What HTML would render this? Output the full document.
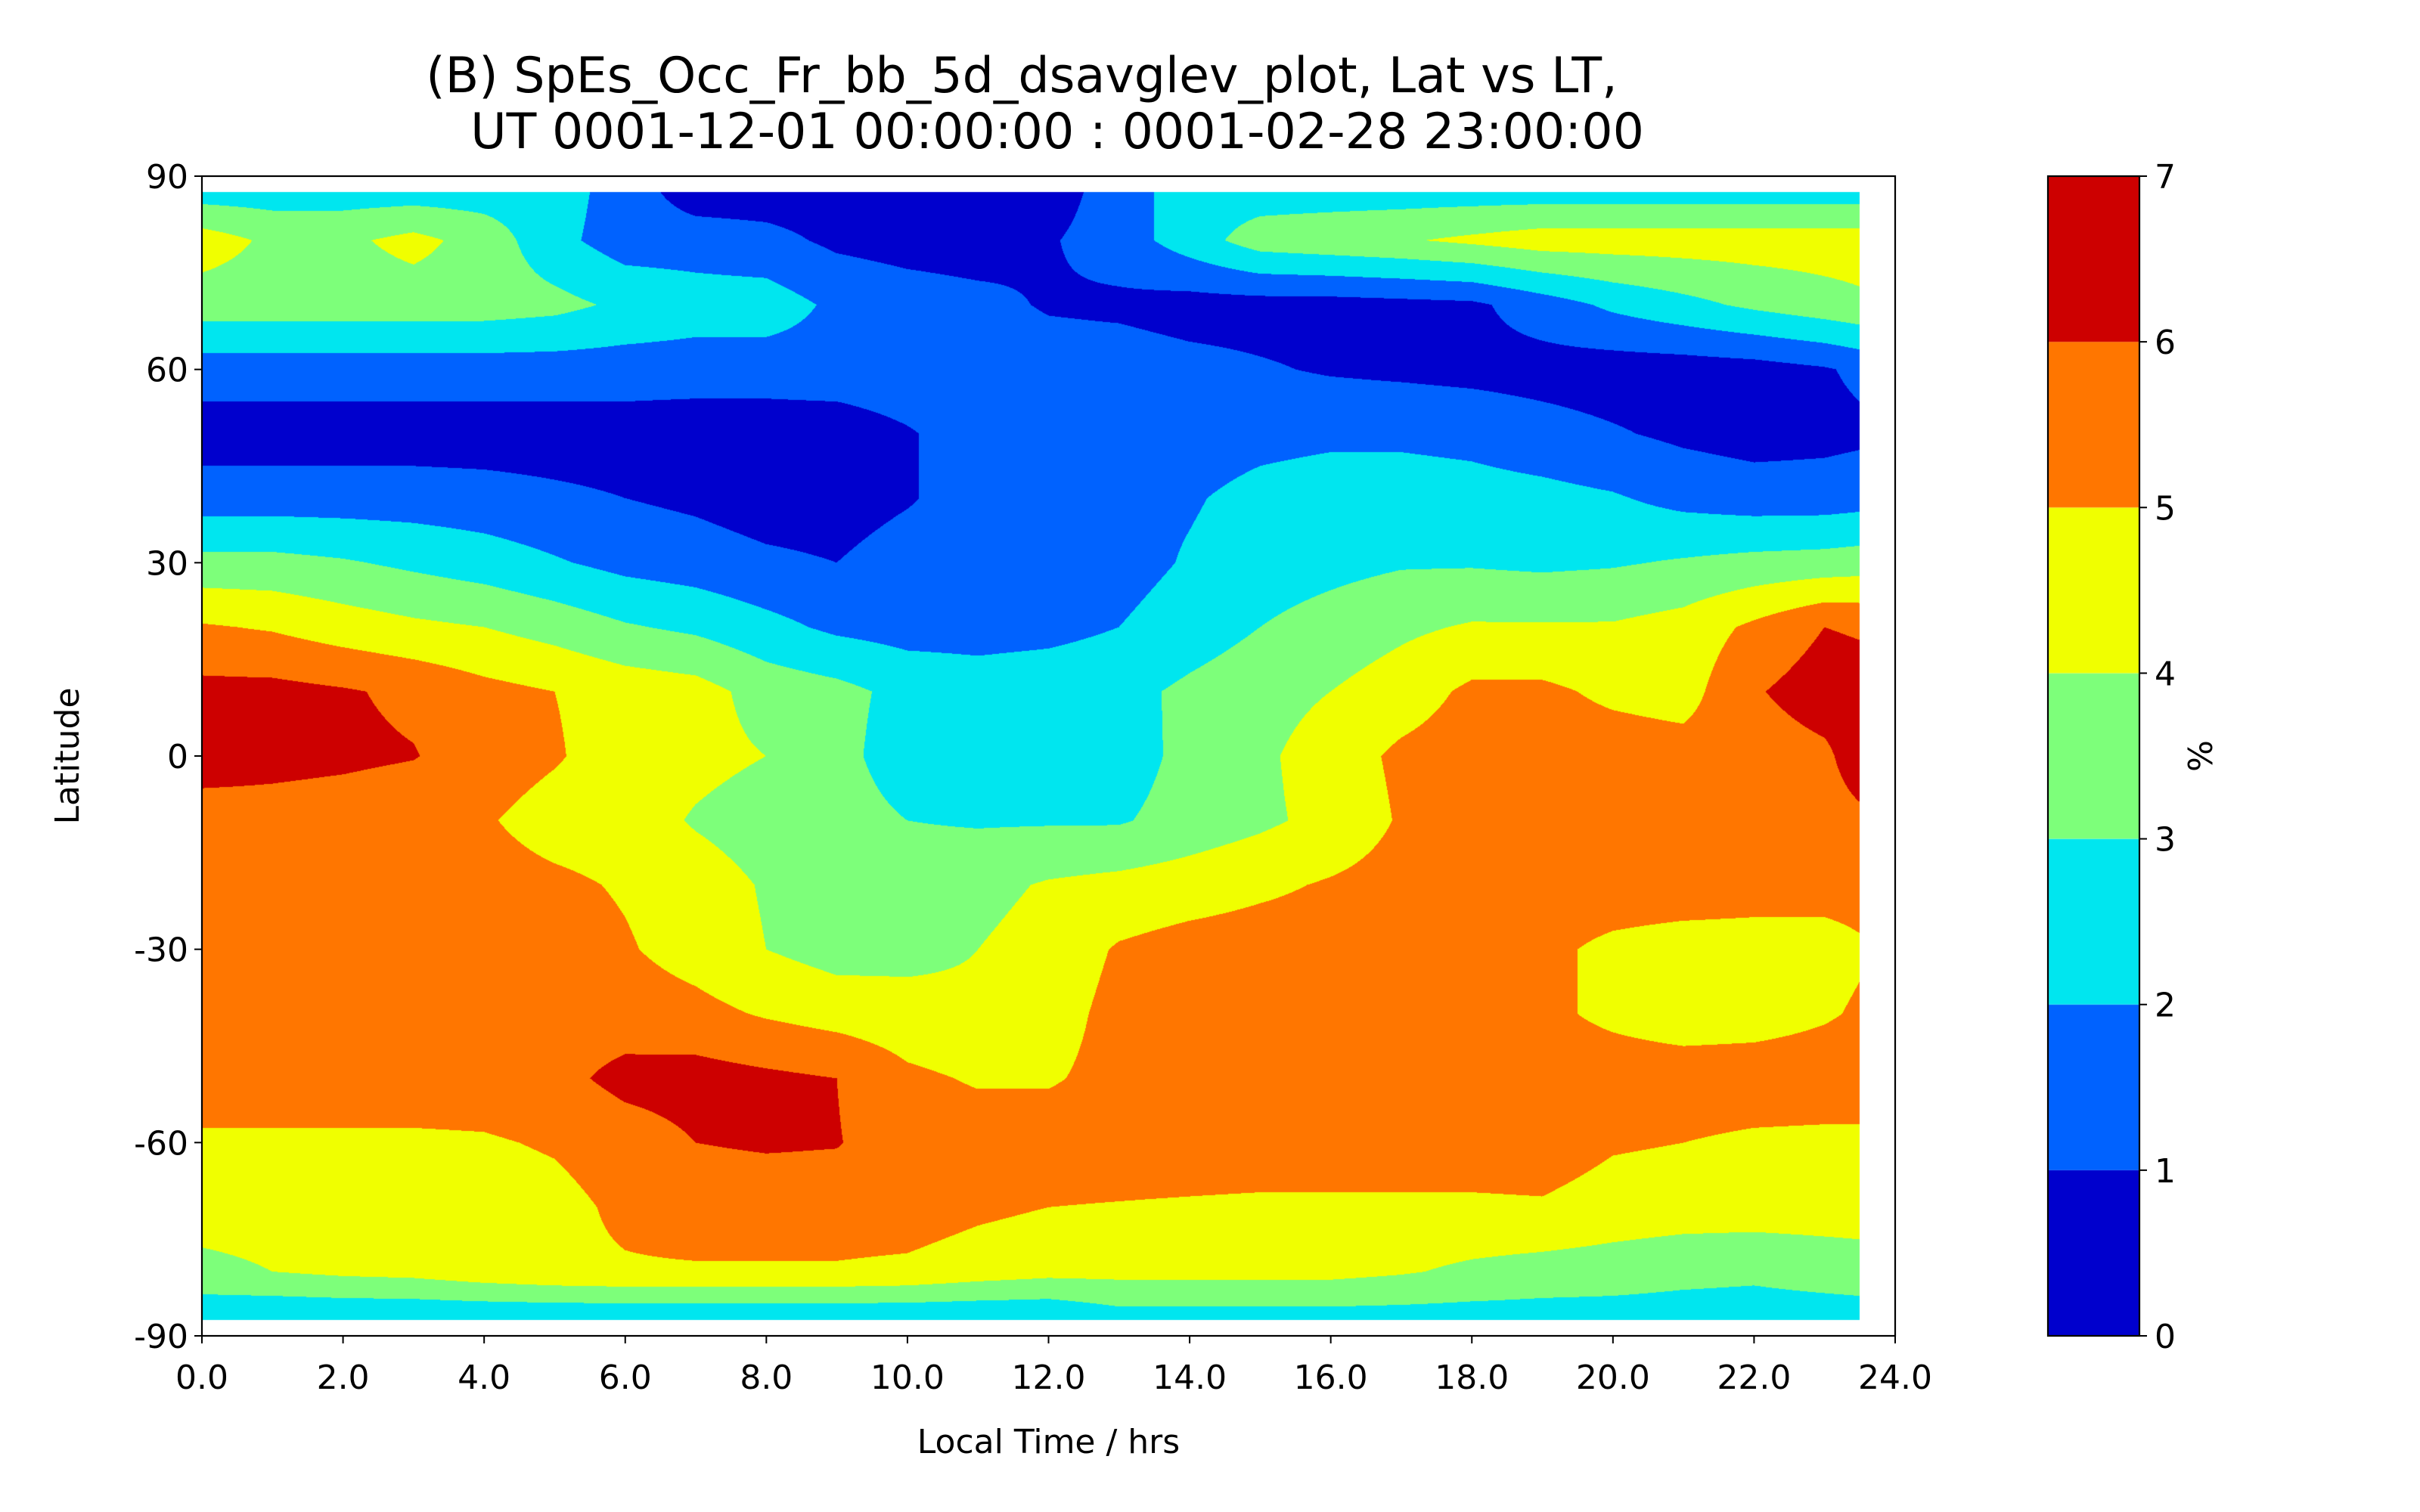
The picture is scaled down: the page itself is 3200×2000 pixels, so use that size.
<!DOCTYPE html>
<html>
<head>
<meta charset="utf-8">
<style>
  html,body{margin:0;padding:0;background:#fff;}
  #wrap{position:relative;width:3200px;height:2000px;overflow:hidden;background:#fff;font-family:"DejaVu Sans","Liberation Sans",sans-serif;}
  #plot-canvas{position:absolute;left:0;top:0;}
  #chart-svg{position:absolute;left:0;top:0;font-family:"DejaVu Sans","Liberation Sans",sans-serif;}
</style>
</head>
<body>
<div id="wrap">
  <canvas id="plot-canvas" width="3200" height="2000"></canvas>
  <svg id="chart-svg" width="3200" height="2000" xmlns="http://www.w3.org/2000/svg"></svg>
</div>
<script>
// ---- data ----
const ltValues = [0,1,2,3,4,5,6,7,8,9,10,11,12,13,14,15,16,17,18,19,20,21,22,23,23.5];
const latValues = [87.5,80,70,60,50,40,30,20,10,0,-10,-20,-30,-40,-50,-60,-70,-80,-87.5];
const row_p87 = [2.5,2.5,2.5,2.5,2.5,2.5,1.5,0.5,0.5,0.5,0.5,0.5,0.5,1.5,2.5,2.5,2.5,2.5,2.5,2.5,2.5,2.5,2.5,2.5,2.5];
const row_p80 = [4.5,3.8,3.8,4.3,3.6,2.3,1.5,1.5,1.3,0.8,0.6,0.5,0.9,1.5,2.5,3.5,3.7,3.9,4.2,4.5,4.5,4.5,4.5,4.5,4.5];
const row_p70 = [3.5,3.5,3.5,3.5,3.5,3.3,2.8,2.5,2.5,1.8,1.5,1.3,0.9,0.8,0.6,0.6,0.6,0.7,0.8,1.5,2.2,2.7,3.2,3.6,3.8];
const row_p60 = [1.5,1.5,1.5,1.5,1.5,1.5,1.5,1.5,1.5,1.6,1.7,1.7,1.5,1.5,1.3,1.1,0.9,0.8,0.7,0.6,0.5,0.5,0.6,0.9,1.2];
const row_p50 = [0.5,0.5,0.5,0.5,0.5,0.5,0.5,0.4,0.4,0.4,0.9,1.5,1.5,1.5,1.5,1.7,1.8,1.8,1.7,1.4,1.1,0.8,0.6,0.7,0.8];
const row_p40 = [1.5,1.5,1.5,1.5,1.4,1.2,1.0,0.8,0.5,0.5,0.9,1.5,1.6,1.7,1.9,2.3,2.5,2.5,2.4,2.3,2.1,1.7,1.5,1.5,1.6];
const row_p30 = [3.3,3.3,3.1,2.8,2.5,2.1,1.7,1.5,1.2,1.0,1.5,1.5,1.5,1.6,2.1,2.5,2.7,2.9,2.9,2.8,2.9,3.1,3.3,3.4,3.5];
const row_p20 = [5.1,4.9,4.5,4.2,4.0,3.6,3.1,2.8,2.3,1.8,1.6,1.6,1.7,2.0,2.5,3.0,3.4,3.8,4.1,4.1,4.1,4.4,5.2,6.0,5.9];
const row_p10 = [6.3,6.3,6.1,5.8,5.3,5.0,4.6,4.4,3.6,3.3,2.7,2.5,2.6,2.7,3.2,3.6,4.0,4.5,5.2,5.2,4.8,4.6,5.9,6.5,6.4];
const row_00  = [6.5,6.3,6.2,6.05,5.5,5.1,4.5,4.3,4.0,3.3,2.5,2.3,2.3,2.5,3.3,3.8,4.5,5.2,5.5,5.5,5.5,5.4,5.5,5.8,6.5];
const row_m10 = [5.5,5.6,5.5,5.3,5.1,4.6,4.5,3.9,3.5,3.4,3.0,2.9,2.9,2.9,3.4,3.8,4.3,5.1,5.5,5.6,5.7,5.7,5.7,5.6,5.8];
const row_m20 = [5.5,5.5,5.5,5.5,5.4,5.2,4.9,4.5,3.9,3.5,3.5,3.7,4.1,4.3,4.5,4.8,5.1,5.4,5.5,5.5,5.5,5.5,5.4,5.3,5.3];
const row_m30 = [5.5,5.5,5.5,5.5,5.5,5.5,5.1,4.6,4.0,3.6,3.7,4.0,4.4,5.1,5.4,5.5,5.5,5.5,5.4,5.2,4.8,4.6,4.6,4.7,4.9];
const row_m40 = [5.5,5.5,5.5,5.5,5.5,5.5,5.5,5.3,4.9,4.6,4.4,4.2,4.6,5.3,5.5,5.5,5.5,5.5,5.5,5.2,4.8,4.5,4.6,4.9,5.1];
const row_m50 = [5.5,5.5,5.5,5.5,5.5,5.7,6.3,6.4,6.2,6.0,5.2,4.9,4.9,5.3,5.5,5.5,5.5,5.5,5.5,5.5,5.5,5.5,5.5,5.5,5.5];
const row_m60 = [4.85,4.85,4.85,4.85,4.9,5.1,5.5,6.0,6.1,6.05,5.5,5.5,5.5,5.5,5.5,5.5,5.5,5.5,5.5,5.5,5.1,5.0,4.85,4.8,4.8];
const row_m70 = [4.5,4.5,4.5,4.5,4.5,4.7,5.2,5.5,5.5,5.5,5.5,5.2,5.0,4.95,4.9,4.85,4.85,4.85,4.85,4.9,4.6,4.5,4.5,4.5,4.5];
const row_m80 = [3.7,4.0,4.2,4.3,4.6,4.8,4.9,4.9,4.9,4.9,4.8,4.5,4.3,4.3,4.3,4.3,4.3,4.1,3.8,3.6,3.5,3.3,3.2,3.4,3.5];
const row_m87 = [2.2,2.0,2.0,2.0,2.0,2.0,2.0,2.0,2.0,2.0,2.0,2.0,2.0,2.5,2.5,2.5,2.5,2.5,2.5,2.5,2.5,2.5,2.5,2.5,2.5];
const gridRows = [row_p87,row_p80,row_p70,row_p60,row_p50,row_p40,row_p30,row_p20,row_p10,row_00,row_m10,row_m20,row_m30,row_m40,row_m50,row_m60,row_m70,row_m80,row_m87];
const levelBounds = [0,1,2,3,4,5,6,7];
const levelColors = ['#0000cd','#0062ff','#00e6ef','#7dff7a','#f0ff00','#ff7600','#cd0000'];
const xTickValues = [0,2,4,6,8,10,12,14,16,18,20,22,24];
const xTickLabels = ['0.0','2.0','4.0','6.0','8.0','10.0','12.0','14.0','16.0','18.0','20.0','22.0','24.0'];
const yTickValues = [90,60,30,0,-30,-60,-90];
const yTickLabels = ['90','60','30','0','-30','-60','-90'];
const cbTickValues = [0,1,2,3,4,5,6,7];

// ---- geometry ----
const AX = {l:267, r:2506, t:233, b:1767};
const CB = {l:2708, r:2829, t:233, b:1767};
const xScale = v => AX.l + (v/24)*(AX.r-AX.l);
const yScale = v => AX.t + ((90-v)/180)*(AX.b-AX.t);
const cbScale = v => CB.b - (v/7)*(CB.b-CB.t);

function hexToRgb(h){return [parseInt(h.slice(1,3),16),parseInt(h.slice(3,5),16),parseInt(h.slice(5,7),16)];}
const rgbLevels = levelColors.map(hexToRgb);

function findIdx(arr, v, desc){
  for(let i=0;i<arr.length-1;i++){
    const a=arr[i], b=arr[i+1];
    if(desc ? (v<=a && v>=b) : (v>=a && v<=b)) return [i,(v-a)/(b-a)];
  }
  return [arr.length-2,1];
}

// ---- draw filled field ----
const cv = document.getElementById('plot-canvas');
const ctx = cv.getContext('2d');
const x0 = Math.round(xScale(ltValues[0])), x1 = Math.round(xScale(ltValues[ltValues.length-1]));
const y0 = Math.round(yScale(latValues[0])), y1 = Math.round(yScale(latValues[latValues.length-1]));
const W = x1-x0, H = y1-y0;
const img = ctx.createImageData(W,H);
const colCache = [];
for(let px=0;px<W;px++){
  const lt = ltValues[0] + (px+0.5)/W*(ltValues[ltValues.length-1]-ltValues[0]);
  colCache.push(findIdx(ltValues, lt, false));
}
for(let py=0;py<H;py++){
  const lat = latValues[0] - (py+0.5)/H*(latValues[0]-latValues[latValues.length-1]);
  const [ri, rt] = findIdx(latValues, lat, true);
  const ra = gridRows[ri], rb = gridRows[ri+1];
  for(let px=0;px<W;px++){
    const [ci, ct] = colCache[px];
    const v = (1-rt)*((1-ct)*ra[ci]+ct*ra[ci+1]) + rt*((1-ct)*rb[ci]+ct*rb[ci+1]);
    let k = Math.floor(v); if(k<0)k=0; if(k>6)k=6;
    const c = rgbLevels[k];
    const o = (py*W+px)*4;
    img.data[o]=c[0]; img.data[o+1]=c[1]; img.data[o+2]=c[2]; img.data[o+3]=255;
  }
}
ctx.putImageData(img, x0, y0);

// colorbar
for(let i=0;i<levelColors.length;i++){
  ctx.fillStyle = levelColors[i];
  const ya = cbScale(levelBounds[i+1]), yb = cbScale(levelBounds[i]);
  ctx.fillRect(CB.l, ya, CB.r-CB.l, yb-ya);
}

// ---- SVG axes ----
const NS='http://www.w3.org/2000/svg';
const svg=document.getElementById('chart-svg');
function mk(tag, attrs, parent){
  const e=document.createElementNS(NS,tag);
  for(const k in attrs) e.setAttribute(k,attrs[k]);
  (parent||svg).appendChild(e); return e;
}
const frame = mk('rect',{x:AX.l,y:AX.t,width:AX.r-AX.l,height:AX.b-AX.t,fill:'none',stroke:'#000','stroke-width':2.2});


const cbFrame = mk('rect',{x:CB.l,y:CB.t,width:CB.r-CB.l,height:CB.b-CB.t,fill:'none',stroke:'#000','stroke-width':2.2});



const FS = 44;
xTickValues.forEach((v,i)=>{
  const x=xScale(v);
  const t=mk('line',{x1:x,x2:x,y1:AX.b,y2:AX.b+10,stroke:'#000','stroke-width':2});
  
  
  const l=mk('text',{x:x,y:AX.b+70,'text-anchor':'middle','font-size':FS,fill:'#000'});
  l.textContent=xTickLabels[i];
  
  
});
yTickValues.forEach((v,i)=>{
  const y=yScale(v);
  const t=mk('line',{x1:AX.l-10,x2:AX.l,y1:y,y2:y,stroke:'#000','stroke-width':2});
  
  
  const l=mk('text',{x:AX.l-18,y:y+16,'text-anchor':'end','font-size':FS,fill:'#000'});
  l.textContent=yTickLabels[i];
  
  
});
cbTickValues.forEach(v=>{
  const y=cbScale(v);
  const t=mk('line',{x1:CB.r,x2:CB.r+10,y1:y,y2:y,stroke:'#000','stroke-width':2});
  
  
  const l=mk('text',{x:CB.r+20,y:y+16,'text-anchor':'start','font-size':FS,fill:'#000'});
  l.textContent=String(v);
  
  
});
const cbl=mk('text',{x:0,y:0,'text-anchor':'middle','font-size':FS,fill:'#000',transform:'translate(2925,1000) rotate(-90)'});
cbl.textContent='%';


const xl=mk('text',{x:(AX.l+AX.r)/2,y:1922,'text-anchor':'middle','font-size':FS,fill:'#000'});
xl.textContent='Local Time / hrs';


const yl=mk('text',{x:0,y:0,'text-anchor':'middle','font-size':FS,fill:'#000',transform:'translate(104,1000) rotate(-90)'});
yl.textContent='Latitude';


const t1=mk('text',{x:1351,y:122,'text-anchor':'middle','font-size':65,fill:'#000'});
t1.textContent='(B) SpEs_Occ_Fr_bb_5d_dsavglev_plot, Lat vs LT,';


const t2=mk('text',{x:1398,y:196,'text-anchor':'middle','font-size':65,fill:'#000'});
t2.textContent='UT 0001-12-01 00:00:00 : 0001-02-28 23:00:00';


</script>
</body>
</html>
